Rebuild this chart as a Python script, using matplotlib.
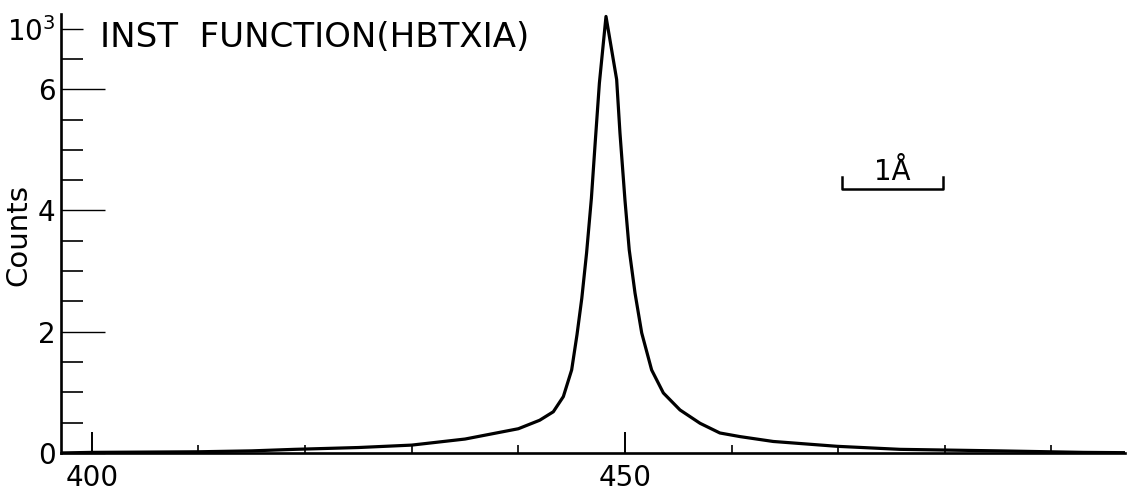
import numpy as np
import matplotlib.pyplot as plt
from matplotlib.ticker import MultipleLocator

import matplotlib as mpl
mpl.rcParams['font.size'] = 20
mpl.rcParams['font.family'] = 'DejaVu Sans'

# instrument function (x in channel units, y in 10^3 counts)
channel = [397, 400, 405, 410, 415, 419, 425, 430, 435, 440, 442, 443.28, 444.22,
           445.0, 445.5, 445.95, 446.4, 446.85, 447.2, 447.6, 448.22,
           449.22, 449.53, 450.0, 450.4, 450.94, 451.57, 452.5, 453.6, 455.16,
           457.04, 458.9, 460.8, 463.9, 469.9, 475.8, 485, 493, 497]
counts = [0.0, 0.01, 0.015, 0.02, 0.035, 0.06, 0.09, 0.13, 0.23, 0.40, 0.54, 0.68, 0.93,
          1.37, 1.95, 2.55, 3.3, 4.2, 5.1, 6.1, 7.2,
          6.16, 5.28, 4.17, 3.35, 2.64, 1.98, 1.37, 0.99, 0.71,
          0.49, 0.33, 0.27, 0.19, 0.11, 0.06, 0.035, 0.01, 0.005]

y_ticks = [0, 2, 4, 6, 7]
y_labels = ['0', '2', '4', '6', '10$^3$']
x_ticks = [400, 450]
x_labels = ['400', '450']

title = 'INST  FUNCTION(HBTXIA)'
scale_label = '1Å'
scale_x = [470.4, 479.8]


def plot(outfile='out.png'):
    fig = plt.figure(figsize=(11.31, 4.92), dpi=100)
    ax = fig.add_axes([0.0539, 0.0793, 0.9408, 0.8922])

    ax.plot(channel, counts, color='black', lw=2.3, solid_joinstyle='round')

    ax.set_xlim(397.1, 496.9)
    ax.set_ylim(0, 7.24)

    for side in ['top', 'right']:
        ax.spines[side].set_visible(False)
    for side in ['left', 'bottom']:
        ax.spines[side].set_linewidth(1.9)

    ax.set_yticks(y_ticks)
    ax.set_yticklabels(y_labels)
    ax.yaxis.set_minor_locator(MultipleLocator(0.5))
    ax.set_xticks(x_ticks)
    ax.set_xticklabels(x_labels)
    ax.xaxis.set_minor_locator(MultipleLocator(10))

    ax.tick_params(axis='y', which='major', direction='in', length=32, width=1.0, pad=4)
    ax.tick_params(axis='y', which='minor', direction='in', length=16, width=1.2)
    ax.tick_params(axis='x', which='major', direction='in', length=15, width=1.4, pad=8)
    ax.tick_params(axis='x', which='minor', direction='in', length=6, width=1.2)
    # the 10^3 mark at the top is a short one
    ax.yaxis.get_major_ticks()[4].tick1line.set_markersize(16)

    ax.set_ylabel('Counts', fontsize=21)
    ax.yaxis.set_label_coords(-0.027, 0.497)

    ax.text(400.75, 6.70, title, fontsize=24.5, va='baseline', ha='left')

    # 1 Angstrom scale bar
    ax.plot([scale_x[0], scale_x[0], scale_x[1], scale_x[1]], [4.56, 4.36, 4.36, 4.56],
            color='black', lw=1.8)
    ax.text(sum(scale_x) / 2, 4.5, scale_label, fontsize=20, ha='center', va='baseline')

    fig.savefig(outfile)
    plt.close(fig)


if __name__ == '__main__':
    plot()
